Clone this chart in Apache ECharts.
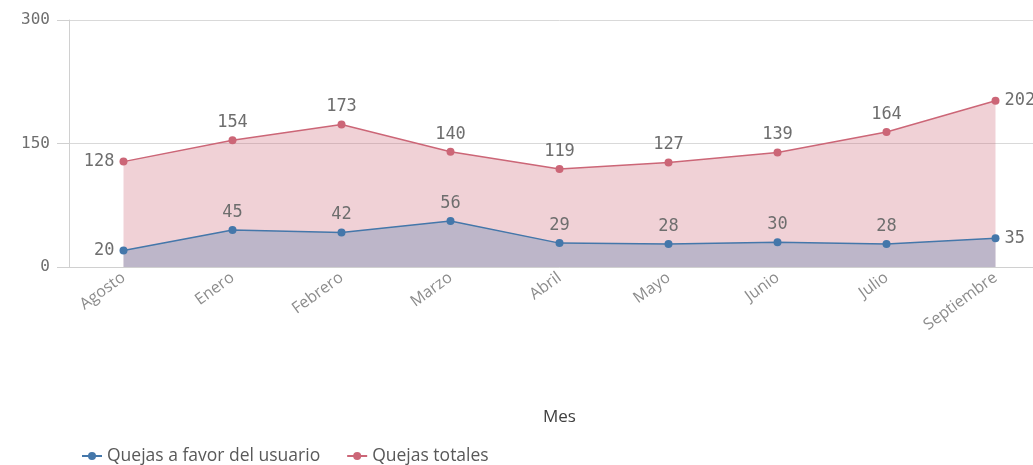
<!DOCTYPE html>
<html lang="es">
<head>
    <meta charset="UTF-8">
    <title>Quejas por mes</title>
    <script src="https://cdn.jsdelivr.net/npm/echarts@6/dist/echarts.min.js"></script>
    <style>
        html, body { margin: 0; padding: 0; background: #fff; overflow: hidden; }
    </style>
</head>
<body>
    <!-- the plot runs a little past the right edge of the window, as in the original -->
    <div id="main" style="width: 1050px; height: 465px;"></div>
    <script>
        const months = ['Agosto', 'Enero', 'Febrero', 'Marzo', 'Abril', 'Mayo', 'Junio', 'Julio', 'Septiembre'];
        const favorUsuario = [20, 45, 42, 56, 29, 28, 30, 28, 35];
        const totales = [128, 154, 173, 140, 119, 127, 139, 164, 202];
        const yTicks = [0, 150, 300];

        const monoFont = 'DejaVu Sans Mono';
        const sansFont = 'Open Sans';

        // first and last points carry their labels to the side, like the original
        function withLabels(values) {
            return values.map((v, i) => {
                let pos = 'top';
                if (i === 0) pos = 'left';
                if (i === values.length - 1) pos = 'right';
                return { value: v, label: { position: pos } };
            });
        }

        const labelStyle = {
            show: true,
            fontFamily: monoFont,
            fontSize: 17,
            color: '#6e6e6e',
            distance: 5
        };

        const option = {
            animation: false,
            grid: { left: 69, top: 20, right: 0, bottom: 198, containLabel: false },
            legend: {
                left: 76,
                top: 442,
                itemGap: 26,
                itemWidth: 20,
                itemHeight: 10,
                textStyle: { fontFamily: sansFont, fontSize: 17.5, color: '#595959' },
                data: ['Quejas a favor del usuario', 'Quejas totales']
            },
            xAxis: {
                type: 'category',
                data: months,
                boundaryGap: true,
                name: 'Mes',
                nameLocation: 'middle',
                nameGap: 142,
                nameTextStyle: { fontFamily: sansFont, fontSize: 17, color: '#404040' },
                axisLine: { lineStyle: { color: '#d0d0d0' } },
                axisTick: { show: false },
                axisLabel: {
                    rotate: 36,
                    margin: 9,
                    fontFamily: sansFont,
                    fontSize: 16,
                    color: '#8c8c8c'
                }
            },
            yAxis: {
                type: 'value',
                min: yTicks[0],
                max: yTicks[yTicks.length - 1],
                interval: yTicks[1] - yTicks[0],
                axisLine: { show: true, lineStyle: { color: '#d0d0d0' } },
                axisTick: { show: true, length: 12, lineStyle: { color: '#d0d0d0' } },
                splitLine: { lineStyle: { color: '#d9d9d9' } },
                axisLabel: {
                    margin: 19,
                    fontFamily: monoFont,
                    fontSize: 16,
                    color: '#6e6e6e'
                }
            },
            series: [
                {
                    name: 'Quejas totales',
                    type: 'line',
                    data: withLabels(totales),
                    symbol: 'circle',
                    symbolSize: 8,
                    color: '#cc6677',
                    lineStyle: { width: 1.5 },
                    areaStyle: { color: '#cc6677', opacity: 0.3 },
                    label: labelStyle
                },
                {
                    name: 'Quejas a favor del usuario',
                    type: 'line',
                    data: withLabels(favorUsuario),
                    symbol: 'circle',
                    symbolSize: 8,
                    color: '#4477aa',
                    lineStyle: { width: 1.5 },
                    areaStyle: { color: '#4477aa', opacity: 0.3 },
                    label: labelStyle
                }
            ]
        };

        const myChart = echarts.init(document.getElementById('main'));
        myChart.setOption(option);
    </script>
</body>
</html>
